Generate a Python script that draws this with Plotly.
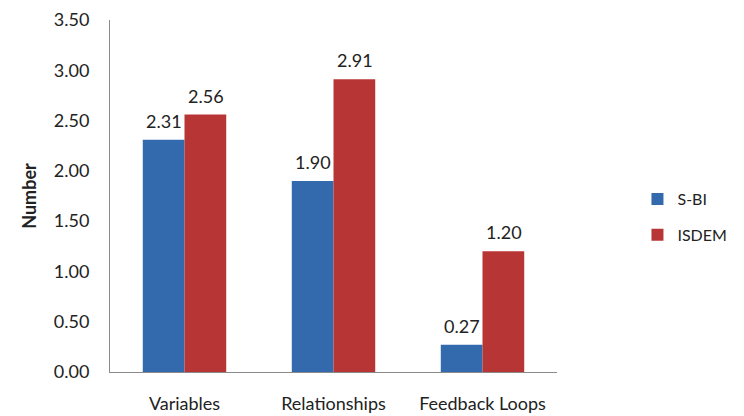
import plotly.graph_objects as go

categories = ["Variables", "Relationships", "Feedback Loops"]
sbi_values = [2.31, 1.90, 0.27]
isdem_values = [2.56, 2.91, 1.20]
y_ticks = [0, 0.5, 1.0, 1.5, 2.0, 2.5, 3.0, 3.5]

font_family = "Lato, 'Noto Sans', sans-serif"

fig = go.Figure()
fig.add_trace(go.Bar(
    x=categories, y=sbi_values, name="S-BI", legendgroup="sbi",
    marker=dict(color="#336AAD", line=dict(width=0)),
))
fig.add_trace(go.Bar(
    x=categories, y=isdem_values, name="ISDEM", legendgroup="isdem",
    marker=dict(color="#B83535", line=dict(width=0)),
))

# value labels above each bar (half a bar width left/right of the category)
for values, shift in ((sbi_values, -21), (isdem_values, 21)):
    for cat, v in zip(categories, values):
        fig.add_annotation(x=cat, y=v, text=f"{v:.2f}", showarrow=False,
                           xshift=shift, yshift=6, yanchor="bottom",
                           font=dict(size=18, color="#222"))

# page body adds an 8px offset, so margins are trimmed on the left/top
fig.update_layout(
    width=744, height=416,
    margin=dict(l=102, r=195, t=12, b=52, autoexpand=False),
    paper_bgcolor="white", plot_bgcolor="white",
    font=dict(family=font_family, size=18, color="#222"),
    barmode="group", bargap=0.44, bargroupgap=0,
    showlegend=True,
    legend=dict(x=1.18, y=0.44, xanchor="left", yanchor="middle",
                font=dict(size=16), itemsizing="constant",
                tracegroupgap=12, bgcolor="rgba(0,0,0,0)"),
    xaxis=dict(showline=True, linecolor="#8a8a8a", linewidth=1,
               ticks="", showgrid=False, tickfont=dict(size=18),
               ticklabelstandoff=15, automargin=False),
    yaxis=dict(range=[0, 3.5], tickvals=y_ticks,
               ticktext=[f"{t:.2f}" for t in y_ticks],
               showline=True, linecolor="#8a8a8a", linewidth=1,
               ticks="", showgrid=False, zeroline=False,
               tickfont=dict(size=18), ticklabelstandoff=16,
               automargin=False,
               title=dict(text="<b>Number</b>", font=dict(size=18), standoff=12)),
)

fig.write_html("out.html")
